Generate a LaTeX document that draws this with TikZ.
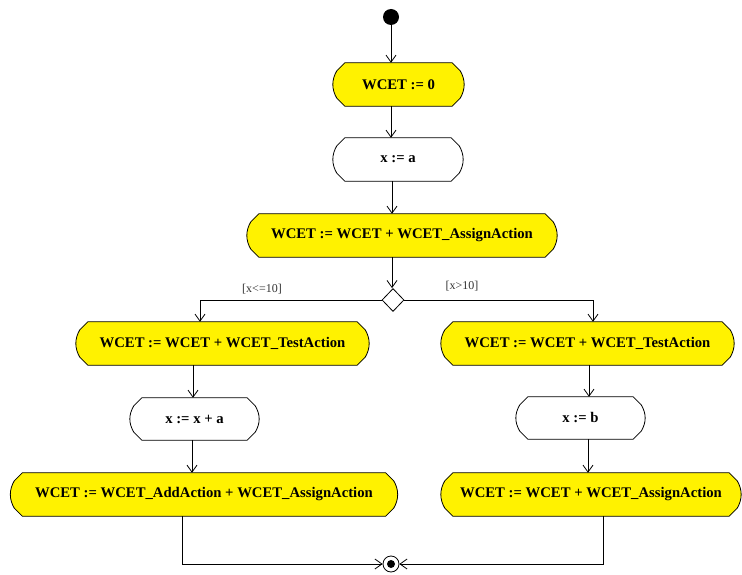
\documentclass[tikz,border=0pt]{standalone}
\usepackage{fontspec}
\setmainfont{Liberation Serif}
\usetikzlibrary{arrows.meta,shapes.geometric,calc,backgrounds}
\newcommand\actpath[1]{let \p1=(#1.north west), \p2=(#1.south east) in
  (\x1+12pt,\y1) -- (\x2-12pt,\y1) -- (\x2-4pt,\y1-8pt)
  .. controls (\x2+1.3pt,\y1-17pt) and (\x2+1.3pt,\y2+17pt) .. (\x2-4pt,\y2+8pt)
  -- (\x2-12pt,\y2) -- (\x1+12pt,\y2) -- (\x1+4pt,\y2+8pt)
  .. controls (\x1-1.3pt,\y2+17pt) and (\x1-1.3pt,\y1-17pt) .. (\x1+4pt,\y1-8pt) -- cycle}
\newcommand\yellowbox[1]{%
  \path[fill=yellow,shift={(1.5pt,-1.8pt)}] \actpath{#1};
  \path[fill=yellow,draw=black,line width=0.8pt] \actpath{#1};}
\newcommand\whitebox[1]{%
  \path[fill=white,draw=black,line width=0.8pt] \actpath{#1};}
\begin{document}
\begin{tikzpicture}[x=1pt,y=-1pt,
  act/.style={inner sep=0pt,minimum height=43pt,font=\fontsize{14.7}{16}\selectfont\bfseries},
  arr/.style={draw=black,line width=0.8pt,-{Straight Barb[length=7pt,width=10pt,line width=0.8pt]}},
  ln/.style={draw=black,line width=0.8pt},
  guard/.style={font=\fontsize{12}{14}\selectfont,text=black!80,inner sep=0pt}]
\useasboundingbox (0,0) rectangle (742,575);
% nodes
\node[circle,fill=black,minimum size=16pt,inner sep=0pt] (start) at (391,17) {};
\node[act,minimum width=131pt] (n1) at (398.5,84.5) {WCET := 0};
\node[act,minimum width=130pt] (n2) at (398,159.5) {x := a};
\node[act,minimum width=310pt] (n3) at (402,235.5) {WCET := WCET + WCET\_AssignAction};
\node[diamond,draw=black,line width=0.8pt,fill=white,inner sep=0pt,minimum width=22pt,minimum height=23pt] (dec) at (393,300) {};
\node[act,minimum width=293pt] (n4) at (222.5,343.5) {WCET := WCET + WCET\_TestAction};
\node[act,minimum width=129pt,minimum height=42pt] (n5) at (194.5,419) {x := x + a};
\node[act,minimum width=387pt] (n6) at (204,494.5) {WCET := WCET\_AddAction + WCET\_AssignAction};
\node[act,minimum width=293pt] (n7) at (587.5,343.5) {WCET := WCET + WCET\_TestAction};
\node[act,minimum width=129pt,minimum height=42pt] (n8) at (580.5,418) {x := b};
\node[act,minimum width=300pt] (n9) at (591,494.5) {WCET := WCET + WCET\_AssignAction};
\node[circle,draw=black,line width=0.8pt,fill=white,minimum size=16pt,inner sep=0pt] (end) at (391,564) {};
\fill[black] (end.center) circle (4pt);
\node[guard] (g1) at (262,289) {[x<=10]};
\node[guard] (g2) at (462,286) {[x>10]};
% shapes
\begin{pgfonlayer}{background}
\yellowbox{n1}
\whitebox{n2}
\yellowbox{n3}
\yellowbox{n4}
\whitebox{n5}
\yellowbox{n6}
\yellowbox{n7}
\whitebox{n8}
\yellowbox{n9}
\end{pgfonlayer}
% connector columns
\coordinate (c1) at (392,0);
\coordinate (lb) at (200,300);
\coordinate (rb) at (593,300);
\coordinate (c4) at (193,0);
\coordinate (c5) at (192,0);
\coordinate (c7) at (589,0);
\coordinate (c8) at (588,0);
\coordinate (c6) at (182,0);
\coordinate (c9) at (603,0);
% connectors
\draw[arr] (start) -- (start |- n1.north);
\draw[arr] (n1.south -| start) -- (n2.north -| start);
\draw[arr] (n2.south -| c1) -- (n3.north -| c1);
\draw[arr] (n3.south -| c1) -- (dec.north -| c1);
\draw[arr] (dec.west) -- (lb) -- (n4.north -| lb);
\draw[arr] (dec.east) -- (rb) -- (n7.north -| rb);
\draw[arr] (n4.south -| c4) -- (n5.north -| c4);
\draw[arr] (n5.south -| c5) -- (n6.north -| c5);
\draw[arr] (n7.south -| c7) -- (n8.north -| c7);
\draw[arr] (n8.south -| c8) -- (n9.north -| c8);
\draw[arr] (n6.south -| c6) -- (c6 |- end) -- (end.west);
\draw[arr] (n9.south -| c9) -- (c9 |- end) -- (end.east);
\end{tikzpicture}
\end{document}
